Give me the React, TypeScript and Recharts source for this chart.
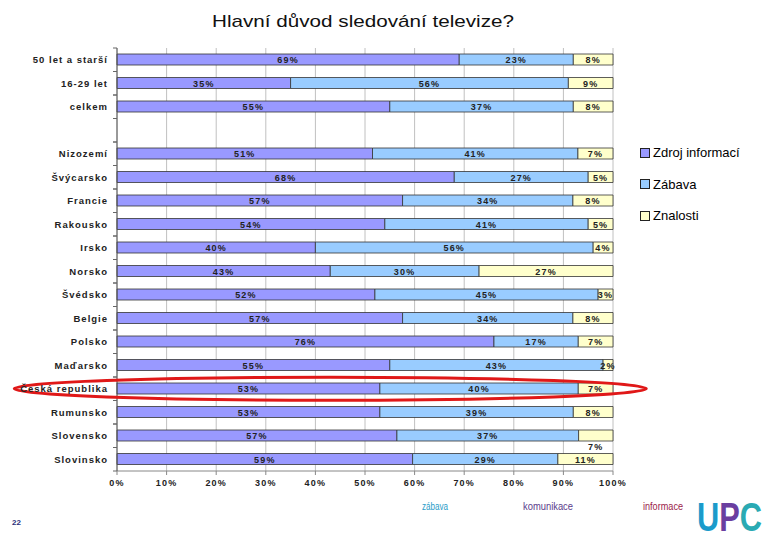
import React from "react";
import { BarChart, Bar, XAxis, YAxis, CartesianGrid, LabelList, ReferenceDot } from "recharts";

const categories = [
  "50 let a starší", "16-29 let", "celkem", " ", "Nizozemí", "Švýcarsko", "Francie", "Rakousko",
  "Irsko", "Norsko", "Švédsko", "Belgie", "Polsko", "Maďarsko", "Česká republika", "Rumunsko",
  "Slovensko", "Slovinsko",
];
const zdrojInformaci = [69, 35, 55, null, 51, 68, 57, 54, 40, 43, 52, 57, 76, 55, 53, 53, 57, 59];
const zabava = [23, 56, 37, null, 41, 27, 34, 41, 56, 30, 45, 34, 17, 43, 40, 39, 37, 29];
const znalosti = [8, 9, 8, null, 7, 5, 8, 5, 4, 27, 3, 8, 7, 2, 7, 8, 7, 11];
const xTicks = [0, 0.1, 0.2, 0.3, 0.4, 0.5, 0.6, 0.7, 0.8, 0.9, 1];
const seriesNames = ["Zdroj informací", "Zábava", "Znalosti"];
const title = "Hlavní důvod sledování televize?";
const highlighted = "Česká republika";
const labelBelowRows = ["Slovensko"];
const footerWords = ["zábava", "komunikace", "informace"];
const pageNumber = "22";

const colors = ["#9999FF", "#99CCFF", "#FFFFCC"];
const FONT = "'Liberation Sans', Arial, sans-serif";

const data = categories.map((c, i) => ({
  name: c,
  zdroj: zdrojInformaci[i],
  zabava: zabava[i],
  znalosti: znalosti[i],
}));
const filledRows = data.filter((d) => d.zdroj !== null);

const BAND = 23.5;

const YTick = (props: any) => {
  const { x, y, payload } = props;
  return (
    <g>
      <text x={x} y={y} dy={3.5} textAnchor="end" fontSize={9.5} fontWeight="bold" fill="#222" fontFamily={FONT} letterSpacing={1}>
        {payload.value}
      </text>
      <line x1={x + 5} x2={x + 9} y1={y - BAND / 2} y2={y - BAND / 2} stroke="#666" />
      <line x1={x + 5} x2={x + 9} y1={y + BAND / 2} y2={y + BAND / 2} stroke="#666" />
    </g>
  );
};

const makeLabel = (key: string) => (props: any) => {
  const { x, y, width, height, index, value } = props;
  if (value === null || value === undefined) return null;
  const row = filledRows[index];
  const below = key === "znalosti" && row && labelBelowRows.includes(row.name);
  return (
    <text
      x={x + width / 2}
      y={below ? y + height + 9 : y + height / 2 + 3.5}
      textAnchor="middle"
      fontSize={9}
      fontWeight="bold"
      fill="#222"
      fontFamily={FONT}
      letterSpacing={1.2}
    >
      {value + "%"}
    </text>
  );
};

const XTick = (props: any) => {
  const { x, y, payload } = props;
  return (
    <text x={x} y={y} dy={9} textAnchor="middle" fontSize={9} fontWeight="bold" fill="#222" fontFamily={FONT} letterSpacing={1.2}>
      {Math.round(payload.value * 100) + "%"}
    </text>
  );
};

const EllipseShape = (props: any) => {
  const { cx, cy } = props;
  return <ellipse cx={cx} cy={cy} rx={316} ry={11.5} fill="none" stroke="#E01818" strokeWidth={3} />;
};

export default function App() {
  return (
    <div style={{ position: "absolute", left: 0, top: 0, width: 780, height: 540, background: "#fff" }}>
      <svg style={{ position: "absolute", left: 0, top: 0 }} width={780} height={40}>
        <text x={212} y={27} fontFamily={FONT} fontSize={17} fill="#111" textLength={302} lengthAdjust="spacingAndGlyphs">
          {title}
        </text>
      </svg>
      <BarChart
        width={780}
        height={540}
        data={data}
        layout="vertical"
        stackOffset="expand"
        barSize={11}
        margin={{ top: 48, right: 167, bottom: 49, left: 0 }}
      >
        <CartesianGrid horizontal={false} vertical stroke="#c0c0c0" />
        <XAxis
          type="number"
          domain={[0, 1]}
          ticks={xTicks}
          height={20}
          axisLine={{ stroke: "#888" }}
          tickLine={{ stroke: "#888" }}
          tickSize={4}
          tick={<XTick />}
          interval={0}
        />
        <YAxis
          type="category"
          dataKey="name"
          width={117}
          axisLine={{ stroke: "#555" }}
          tickLine={false}
          tickSize={0}
          tickMargin={9}
          tick={<YTick />}
          interval={0}
        />
        <Bar dataKey="zdroj" name={seriesNames[0]} stackId="a" fill={colors[0]} stroke="#333" strokeWidth={0.8} isAnimationActive={false}>
          <LabelList dataKey="zdroj" content={makeLabel("zdroj")} />
        </Bar>
        <Bar dataKey="zabava" name={seriesNames[1]} stackId="a" fill={colors[1]} stroke="#333" strokeWidth={0.8} isAnimationActive={false}>
          <LabelList dataKey="zabava" content={makeLabel("zabava")} />
        </Bar>
        <Bar dataKey="znalosti" name={seriesNames[2]} stackId="a" fill={colors[2]} stroke="#333" strokeWidth={0.8} isAnimationActive={false}>
          <LabelList dataKey="znalosti" content={makeLabel("znalosti")} />
        </Bar>
        <ReferenceDot x={0.43} y={highlighted} ifOverflow="visible" shape={<EllipseShape />} />
      </BarChart>
      <div style={{ position: "absolute", left: 640, top: 137, fontFamily: FONT, fontSize: 13, color: "#000" }}>
        {seriesNames.map((n, i) => (
          <div key={n} style={{ display: "flex", alignItems: "center", height: 31.5 }}>
            <span
              style={{
                display: "inline-block",
                width: 8,
                height: 8,
                background: colors[i],
                border: "1px solid #222",
                marginRight: 3,
              }}
            />
            <span>{n}</span>
          </div>
        ))}
      </div>
      <svg style={{ position: "absolute", left: 0, top: 495 }} width={780} height={45}>
        <text x={422} y={15} fontFamily={FONT} fontSize={10} fill="#2A9CC8" textLength={26} lengthAdjust="spacingAndGlyphs">
          {footerWords[0]}
        </text>
        <text x={523} y={15} fontFamily={FONT} fontSize={10} fill="#5B3C8C" textLength={50} lengthAdjust="spacingAndGlyphs">
          {footerWords[1]}
        </text>
        <text x={643} y={15} fontFamily={FONT} fontSize={10} fill="#9B1B4A" textLength={40} lengthAdjust="spacingAndGlyphs">
          {footerWords[2]}
        </text>
        <text x={12} y={30} fontFamily={FONT} fontSize={8} fontWeight="bold" fill="#2B2F7A">
          {pageNumber}
        </text>
        <text
          x={697}
          y={36}
          fontFamily={FONT}
          fontWeight="bold"
          fontSize={40}
          textLength={65}
          lengthAdjust="spacingAndGlyphs"
        >
          <tspan fill="#1B9BCB">U</tspan>
          <tspan fill="#6A3EA0">P</tspan>
          <tspan fill="#2AAAB3">C</tspan>
        </text>
      </svg>
    </div>
  );
}
